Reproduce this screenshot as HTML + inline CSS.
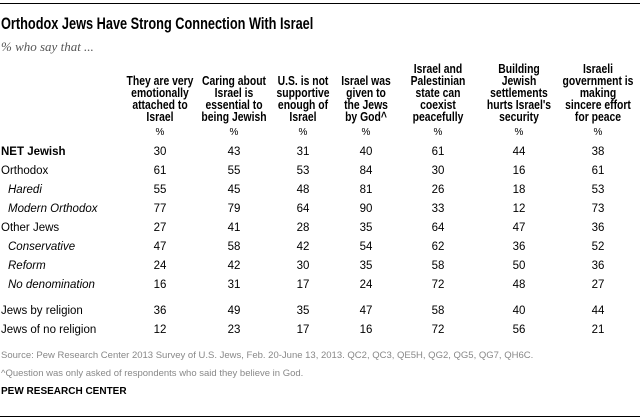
<!DOCTYPE html>
<html><head><meta charset="utf-8"><style>
body{margin:0;background:#fff;}
#c{position:relative;width:640px;height:420px;overflow:hidden;font-family:"Liberation Sans",sans-serif;color:#000;}
.a{position:absolute;white-space:nowrap;}
.rule{position:absolute;left:0;width:640px;height:1px;background:#000;}
.hd{position:absolute;top:74px;width:120px;text-align:center;font-weight:bold;font-size:12.5px;line-height:12px;transform:translateX(-50%) scaleX(0.83);white-space:nowrap;}
.num{position:absolute;font-size:11.5px;transform:translateX(-50%);}
.lab{position:absolute;left:1px;font-size:11.5px;}
</style></head><body>
<div id="c">
<div class="rule" style="top:3px"></div>
<div class="a" style="left:1px;top:14px;font-weight:bold;font-size:17px;transform:scaleX(0.75);transform-origin:0 0">Orthodox Jews Have Strong Connection With Israel</div>
<div class="a" style="left:1px;top:39px;font-family:'Liberation Serif',serif;font-style:italic;font-size:13px;color:#555">% who say that ...</div>
<div id="t"></div>
<div class="a" style="left:1px;top:350px;font-size:9.5px;color:#888">Source: Pew Research Center 2013 Survey of U.S. Jews, Feb. 20-June 13, 2013. QC2, QC3, QE5H, QG2, QG5, QG7, QH6C.</div>
<div class="a" style="left:1px;top:368px;font-size:9.5px;color:#888">^Question was only asked of respondents who said they believe in God.</div>
<div class="a" style="left:1px;top:386px;font-size:10px;font-weight:bold">PEW RESEARCH CENTER</div>
<div class="rule" style="top:416px"></div>
</div>
<script>
const headers=["They are very emotionally attached to Israel","Caring about Israel is essential to being Jewish","U.S. is not supportive enough of Israel","Israel was given to the Jews by God^","Israel and Palestinian state can coexist peacefully","Building Jewish settlements hurts Israel's security","Israeli government is making sincere effort for peace"];
const headerLines=[["They are very","emotionally","attached to","Israel"],["Caring about","Israel is","essential to","being Jewish"],["U.S. is not","supportive","enough of","Israel"],["Israel was","given to","the Jews","by God^"],["Israel and","Palestinian","state can","coexist","peacefully"],["Building","Jewish","settlements","hurts Israel's","security"],["Israeli","government is","making","sincere effort","for peace"]];
const groups=["NET Jewish","Orthodox","Haredi","Modern Orthodox","Other Jews","Conservative","Reform","No denomination","Jews by religion","Jews of no religion"];
const styles=["b","n","i","i","n","i","i","i","n","n"];
const values=[[30,43,31,40,61,44,38],[61,55,53,84,30,16,61],[55,45,48,81,26,18,53],[77,79,64,90,33,12,73],[27,41,28,35,64,47,36],[47,58,42,54,62,36,52],[24,42,30,35,58,50,36],[16,31,17,24,72,48,27],[36,49,35,47,58,40,44],[12,23,17,16,72,56,21]];
const colX=[160,234,303,366,438,519,598];
const t=document.getElementById('t');
headerLines.forEach((ls,j)=>{
  const d=document.createElement('div');d.className='hd';
  
  
  d.style.left=colX[j]+'px';
  d.style.top=(ls.length===5?63:75)+'px';
  d.innerHTML=ls.join('<br>');d.title=headers[j];t.appendChild(d);
  const p=document.createElement('div');p.className='num';
  
  
  p.style.left=colX[j]+'px';p.style.top='127px';p.style.fontSize='10px';p.textContent='%';t.appendChild(p);
});
groups.forEach((g,i)=>{
  const y=(i<8?146+i*19:i===8?305:324);
  const l=document.createElement('div');l.className='lab';
  
  
  l.style.top=y+'px';l.textContent=g;
  if(styles[i]==='b')l.style.fontWeight='bold';
  if(styles[i]==='i'){l.style.fontStyle='italic';l.style.left='8px';}
  t.appendChild(l);
  values[i].forEach((v,j)=>{
    const n=document.createElement('div');n.className='num';
    
    
    n.style.left=colX[j]+'px';n.style.top=y+'px';n.textContent=v;t.appendChild(n);
  });
});
</script>
</body></html>
